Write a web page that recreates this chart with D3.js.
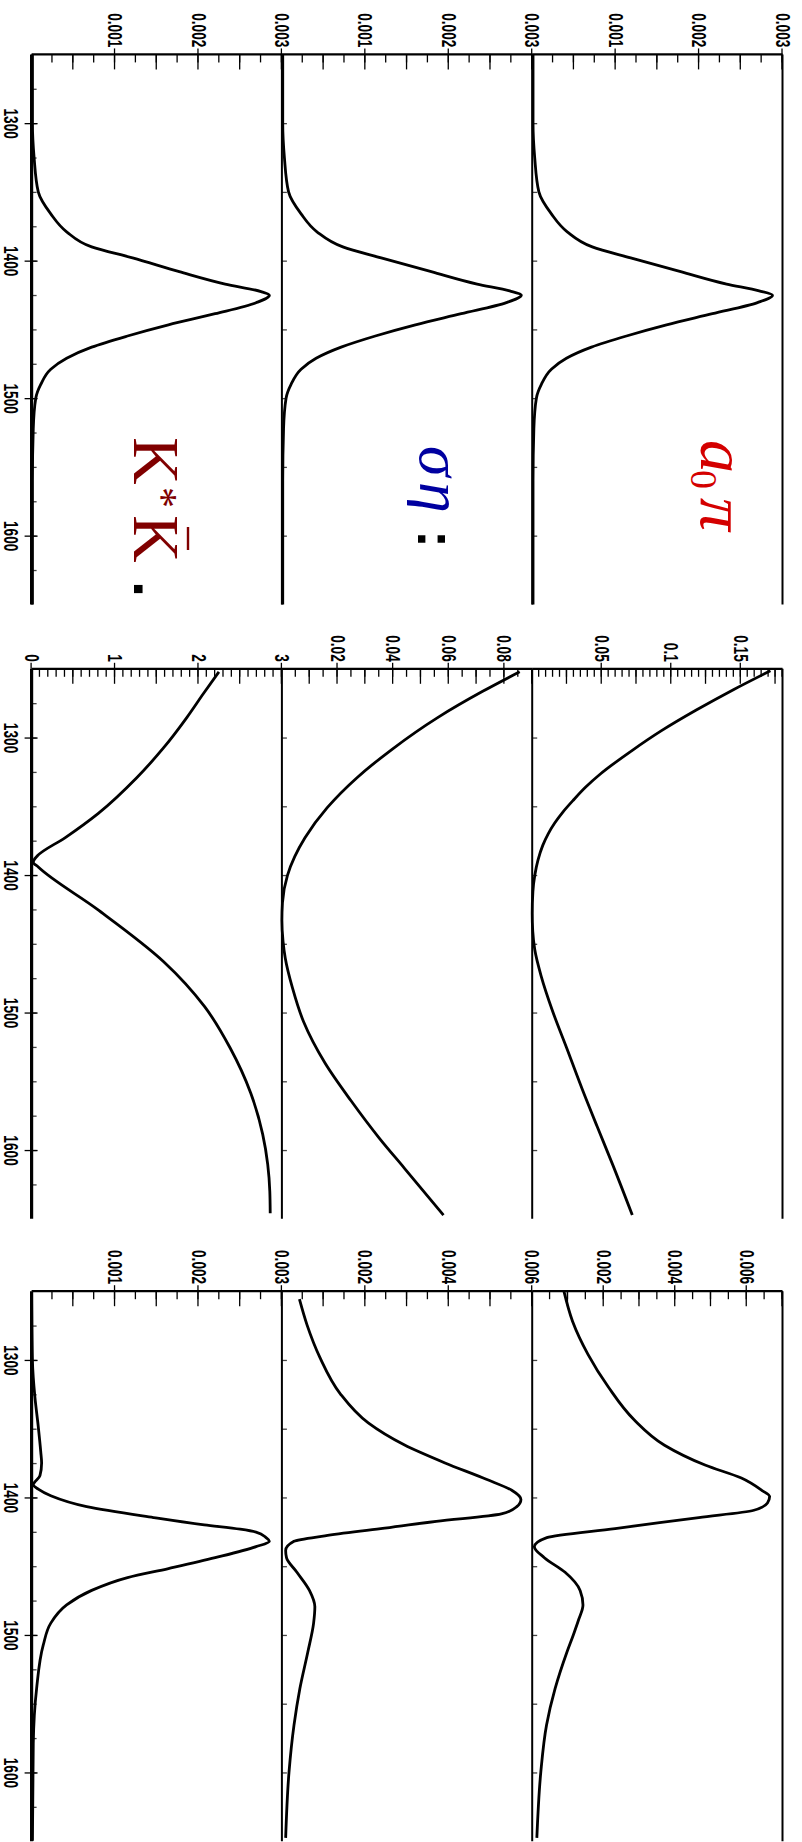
<!DOCTYPE html>
<html><head><meta charset="utf-8">
<script src="https://cdn.jsdelivr.net/npm/d3@7"></script>
<style>html,body{margin:0;padding:0;background:#fff;} svg{display:block;}</style>
</head><body>
<script>
// ---------- DATA (mass in MeV, value) ----------
const massDomain = [1250, 1650];
const massLabels = [1300, 1400, 1500, 1600];

// column 1
const col1A0pi = [[1250,0.00001],[1300,0.00001],[1325,0.00003],[1350,0.00008],[1366,0.00023],[1379,0.00042],[1390,0.00072],[1398,0.00118],[1408,0.00178],[1417,0.00233],[1422,0.00272],[1425.2,0.00288],[1430.5,0.00270],[1438.6,0.00216],[1446.7,0.00161],[1454.8,0.00113],[1462.9,0.00071],[1471,0.00041],[1479,0.00023],[1490,0.00011],[1500,0.00005],[1522,0.00002],[1560,0.00001],[1650,0.00001]];
const col1SigmaEta = [[1250,0.00001],[1300,0.00001],[1325,0.00003],[1350,0.00008],[1366,0.00023],[1379,0.00042],[1390,0.00073],[1398,0.00119],[1408,0.00179],[1417,0.00234],[1422,0.00273],[1425.0,0.00287],[1430.5,0.00269],[1438.6,0.00215],[1446.7,0.00160],[1454.8,0.00112],[1462.9,0.00071],[1471,0.00041],[1479,0.00023],[1490,0.00011],[1500,0.00005],[1522,0.00002],[1560,0.00001],[1650,0.00001]];
const col1KstarK = [[1250,0.00001],[1300,0.00001],[1325,0.00003],[1350,0.00008],[1366,0.00023],[1379,0.00042],[1390,0.00072],[1398,0.00121],[1408,0.00177],[1417,0.00232],[1422.5,0.00275],[1425.2,0.00285],[1430.6,0.00269],[1438.6,0.00220],[1446.7,0.00164],[1454.8,0.00115],[1462.9,0.00072],[1471,0.00042],[1479,0.00023],[1490,0.00011],[1500,0.00005],[1522,0.00002],[1560,0.00001],[1650,0.00001]];

// column 2
const col2A0pi = [[1251.4,0.1713],[1265,0.145],[1280,0.118],[1295,0.093],[1310,0.071],[1326.5,0.049],[1336,0.0385],[1345.6,0.0295],[1354,0.0222],[1362,0.0163],[1370,0.0115],[1378.4,0.0076],[1389,0.0042],[1400,0.0019],[1412,0.0005],[1428,0.0],[1441,0.0004],[1454,0.0018],[1474,0.0066],[1498.5,0.0145],[1525.8,0.0248],[1555.8,0.0360],[1583.1,0.0468],[1610.4,0.0578],[1647.3,0.0720]];
const col2SigmaEta = [[1252.2,0.0855],[1266.4,0.0722],[1285.5,0.0560],[1308.7,0.0395],[1329.2,0.0270],[1351,0.0163],[1372.9,0.0083],[1400.2,0.0020],[1420,0.0002],[1433,0.0],[1448,0.0004],[1460.3,0.0012],[1482.1,0.0038],[1506.7,0.0078],[1536.7,0.0155],[1564,0.0248],[1591.3,0.0350],[1613.1,0.0440],[1647.3,0.0581]];
const col2KstarK = [[1252.2,2.245],[1268,2.06],[1285.5,1.86],[1307.4,1.583],[1329.2,1.26],[1355.1,0.80],[1372.9,0.40],[1386,0.07],[1390.6,0.02],[1394.2,0.08],[1424.8,0.785],[1463,1.583],[1495.7,2.074],[1525.8,2.38],[1558.5,2.626],[1588.6,2.77],[1610.4,2.83],[1630,2.855],[1645.9,2.86]];

// column 3
const col3A0pi = [[1250.3,0.00089],[1272,0.00113],[1295.9,0.00156],[1319.7,0.00213],[1343.5,0.00285],[1362,0.0037],[1376.6,0.00485],[1385.9,0.00585],[1394.8,0.00642],[1399.3,0.00664],[1404,0.00658],[1409.3,0.0062],[1414.6,0.00466],[1422.6,0.00232],[1429.2,0.00041],[1435.8,0.00006],[1443.8,0.00034],[1454.4,0.00092],[1467.6,0.00134],[1478.2,0.00142],[1488.8,0.0013],[1500,0.00115],[1512.6,0.00097],[1539.1,0.00064],[1565.6,0.0004],[1600,0.00024],[1647.6,0.00013]];
const col3SigmaEta = [[1255.8,0.00042],[1274.3,0.0006],[1298.1,0.00091],[1324.6,0.0014],[1345.8,0.00207],[1361.7,0.00293],[1374.9,0.00391],[1386.8,0.0049],[1394.8,0.00551],[1401.4,0.00573],[1406.7,0.00563],[1412,0.00526],[1417.4,0.0037],[1422.7,0.00237],[1427.9,0.00103],[1431.9,0.00029],[1438.5,0.00009],[1443.8,0.00011],[1454.4,0.00036],[1467.6,0.00066],[1479.5,0.00079],[1491.4,0.00076],[1512.6,0.00062],[1539.1,0.00043],[1565.6,0.00029],[1600,0.00017],[1647.6,0.00009]];
const col3KstarK = [[1250.5,0.0],[1300.8,0.00001],[1327.3,0.00004],[1348.5,0.00008],[1367,0.00011],[1374.9,0.00012],[1384.2,0.0001],[1390.8,0.00002],[1394,0.00008],[1398.8,0.00023],[1406.7,0.00066],[1414.6,0.00146],[1419.9,0.00207],[1423.1,0.0025],[1425.2,0.00269],[1429.2,0.00281],[1431.8,0.00285],[1435.8,0.00269],[1443.8,0.0022],[1451.7,0.00164],[1458.3,0.00115],[1467.6,0.00072],[1478.2,0.00042],[1491.4,0.00023],[1507.3,0.00014],[1539,0.00006],[1578.8,0.00002],[1649.7,0.00001]];

// value axes [column][row]  rows: a0pi, sigma-eta, K*Kbar
const yMax = [[0.003,0.003,0.003],[0.18,0.09,3],[0.007,0.006,0.003]];
const yLabelTicks = [
  [[0.001,0.002,0.003],[0.001,0.002,0.003],[0.001,0.002,0.003]],
  [[0.05,0.1,0.15],[0.02,0.04,0.06,0.08],[0,1,2,3]],
  [[0.002,0.004,0.006],[0.002,0.004,0.006],[0.001,0.002,0.003]]];
const yLabelText = [
  [["0.001","0.002","0.003"],["0.001","0.002","0.003"],["0.001","0.002","0.003"]],
  [["0.05","0.1","0.15"],["0.02","0.04","0.06","0.08"],["0","1","2","3"]],
  [["0.002","0.004","0.006"],["0.002","0.004","0.006"],["0.001","0.002","0.003"]]];
const yMinorStep = [[0.00025,0.00025,0.00025],[0.005,0.005,0.1],[0.0005,0.0005,0.00025]];
const yMedStep   = [[0.0005,0.0005,0.0005],[0.025,0.01,0.5],[0.001,0.001,0.0005]];

const curves = [[col1A0pi,col1SigmaEta,col1KstarK],[col2A0pi,col2SigmaEta,col2KstarK],[col3A0pi,col3SigmaEta,col3KstarK]];

// ---------- LAYOUT (drawn in landscape frame, then rotated) ----------
const colX = [54.4, 668.8, 1291.2], colW = 550;
const rowTop = [19.5, 269.8, 520.1], rowH = 250.3;
const labelFont = "'Liberation Sans', Arial, sans-serif";

const svg = d3.select('body').append('svg').attr('width',802).attr('height',1842);
const g = svg.append('g').attr('transform','translate(802,0) rotate(90)');

function stepRange(step, max){
  const n = Math.round(max/step); const out=[];
  for(let i=1;i<=n;i++) out.push(+(i*step).toFixed(8));
  return out;
}
function labLen(s){ let L=0; for(const ch of s){ L += (ch==='.')?3.8:7.6; } return L; }

for(let c=0;c<3;c++){
  const x = d3.scaleLinear().domain(massDomain).range([colX[c], colX[c]+colW]);
  for(let r=0;r<3;r++){
    const y = d3.scaleLinear().domain([0,yMax[c][r]]).range([rowTop[r]+rowH, rowTop[r]]);
    const pg = g.append('g');
    const x0 = x(massDomain[0]);
    const minor = stepRange(yMinorStep[c][r], yMax[c][r]);
    const med = stepRange(yMedStep[c][r], yMax[c][r]);
    const ax1 = pg.append('g').attr('transform',`translate(${x0},0)`)
      .call(d3.axisRight(y).tickValues(minor).tickSize(8).tickFormat(''));
    const ax2 = pg.append('g').attr('transform',`translate(${x0},0)`)
      .call(d3.axisRight(y).tickValues(med).tickSize(15).tickFormat(''));
    const labs = yLabelTicks[c][r], txt = yLabelText[c][r];
    const ax3 = pg.append('g').attr('transform',`translate(${x0},0)`)
      .call(d3.axisLeft(y).tickValues(labs).tickSize(6).tickPadding(1)
        .tickFormat((d,i)=>txt[i]));
    [ax1,ax2,ax3].forEach(a=>{ a.select('.domain').remove(); a.selectAll('line').attr('stroke','#000').attr('stroke-width',1.3); });
    ax3.selectAll('text').attr('font-family',labelFont).attr('font-weight','bold').attr('font-size',20).attr('fill','#000')
      .attr('textLength',(d,i)=>labLen(txt[i])).attr('lengthAdjust','spacingAndGlyphs');

    const yb = rowTop[r]+rowH;
    if(r<2){
      const mt = pg.append('g').attr('transform',`translate(0,${yb})`)
        .call(d3.axisTop(x).tickValues(d3.range(1300,1650,50)).tickSize(5).tickFormat(''));
      mt.select('.domain').remove();
      mt.selectAll('line').attr('stroke','#444').attr('stroke-width',1.3);
    } else {
      const mt = pg.append('g').attr('transform',`translate(0,${yb})`)
        .call(d3.axisTop(x).tickValues(d3.range(1275,1650,25)).tickSize(5).tickFormat(''));
      mt.select('.domain').remove();
      mt.selectAll('line').attr('stroke','#444').attr('stroke-width',1.3);
      const mb = pg.append('g').attr('transform',`translate(0,${yb})`)
        .call(d3.axisBottom(x).tickValues(massLabels).tickSize(7).tickPadding(6).tickFormat(d3.format('d')));
      mb.select('.domain').remove();
      mb.selectAll('line').attr('stroke','#000').attr('stroke-width',1.3).attr('y1',-6);
      mb.selectAll('text').attr('font-family',labelFont).attr('font-weight','bold').attr('font-size',20).attr('fill','#000')
        .attr('textLength',30.4).attr('lengthAdjust','spacingAndGlyphs');
    }

    // frame lines
    pg.append('line').attr('x1',x(massDomain[0])).attr('x2',x(massDomain[1]))
      .attr('y1',y(0)).attr('y2',y(0)).attr('stroke','#000').attr('stroke-width', r===2?3.2:2);
    if(r===0){
      pg.append('line').attr('x1',x(massDomain[0])).attr('x2',x(massDomain[1]))
        .attr('y1',y(yMax[c][r])).attr('y2',y(yMax[c][r])).attr('stroke','#000').attr('stroke-width',2);
    }
    pg.append('line').attr('x1',x0).attr('x2',x0)
      .attr('y1',y(0)).attr('y2',y(yMax[c][r])).attr('stroke','#000').attr('stroke-width',2.2);

    const line = d3.line().x(d=>x(d[0])).y(d=>y(d[1])).curve(d3.curveMonotoneX);
    pg.append('path').datum(curves[c][r]).attr('d',line)
      .attr('fill','none').attr('stroke','#000').attr('stroke-width',2.8).attr('stroke-linejoin','round');
  }
}

// ---------- channel labels ----------
const serif = "'Liberation Serif', 'Times New Roman', serif";
const t1 = g.append('text').attr('font-family',serif).attr('fill','#d40000');
t1.append('tspan').attr('x',440).attr('y',101).attr('font-size',66).attr('font-style','italic').text('a');
t1.append('tspan').attr('x',470).attr('y',111).attr('font-size',38).text('0');
t1.append('tspan').attr('x',498).attr('y',101).attr('font-size',66).attr('font-style','italic').text('π');

const t2 = g.append('text').attr('font-family',serif).attr('fill','#0000a0').attr('font-style','italic').attr('font-size',62);
t2.append('tspan').attr('x',446).attr('y',382).text('σ');
t2.append('tspan').attr('x',482).attr('y',382).text('η');
g.append('text').attr('x',530).attr('y',384).attr('font-family',labelFont).attr('font-weight','bold')
  .attr('font-size',54).attr('fill','#000').text(':');

const t3 = g.append('text').attr('font-family',serif).attr('fill','#800000');
t3.append('tspan').attr('x',437).attr('y',668).attr('font-size',66).text('K');
t3.append('tspan').attr('x',487).attr('y',654).attr('font-size',42).text('*');
t3.append('tspan').attr('x',515).attr('y',668).attr('font-size',66).text('K');
g.append('line').attr('x1',527).attr('x2',550).attr('y1',614).attr('y2',614).attr('stroke','#800000').attr('stroke-width',2.4);
g.append('text').attr('x',581).attr('y',668).attr('font-family',labelFont).attr('font-weight','bold')
  .attr('font-size',58).attr('fill','#000').text('.');
</script>
</body></html>
